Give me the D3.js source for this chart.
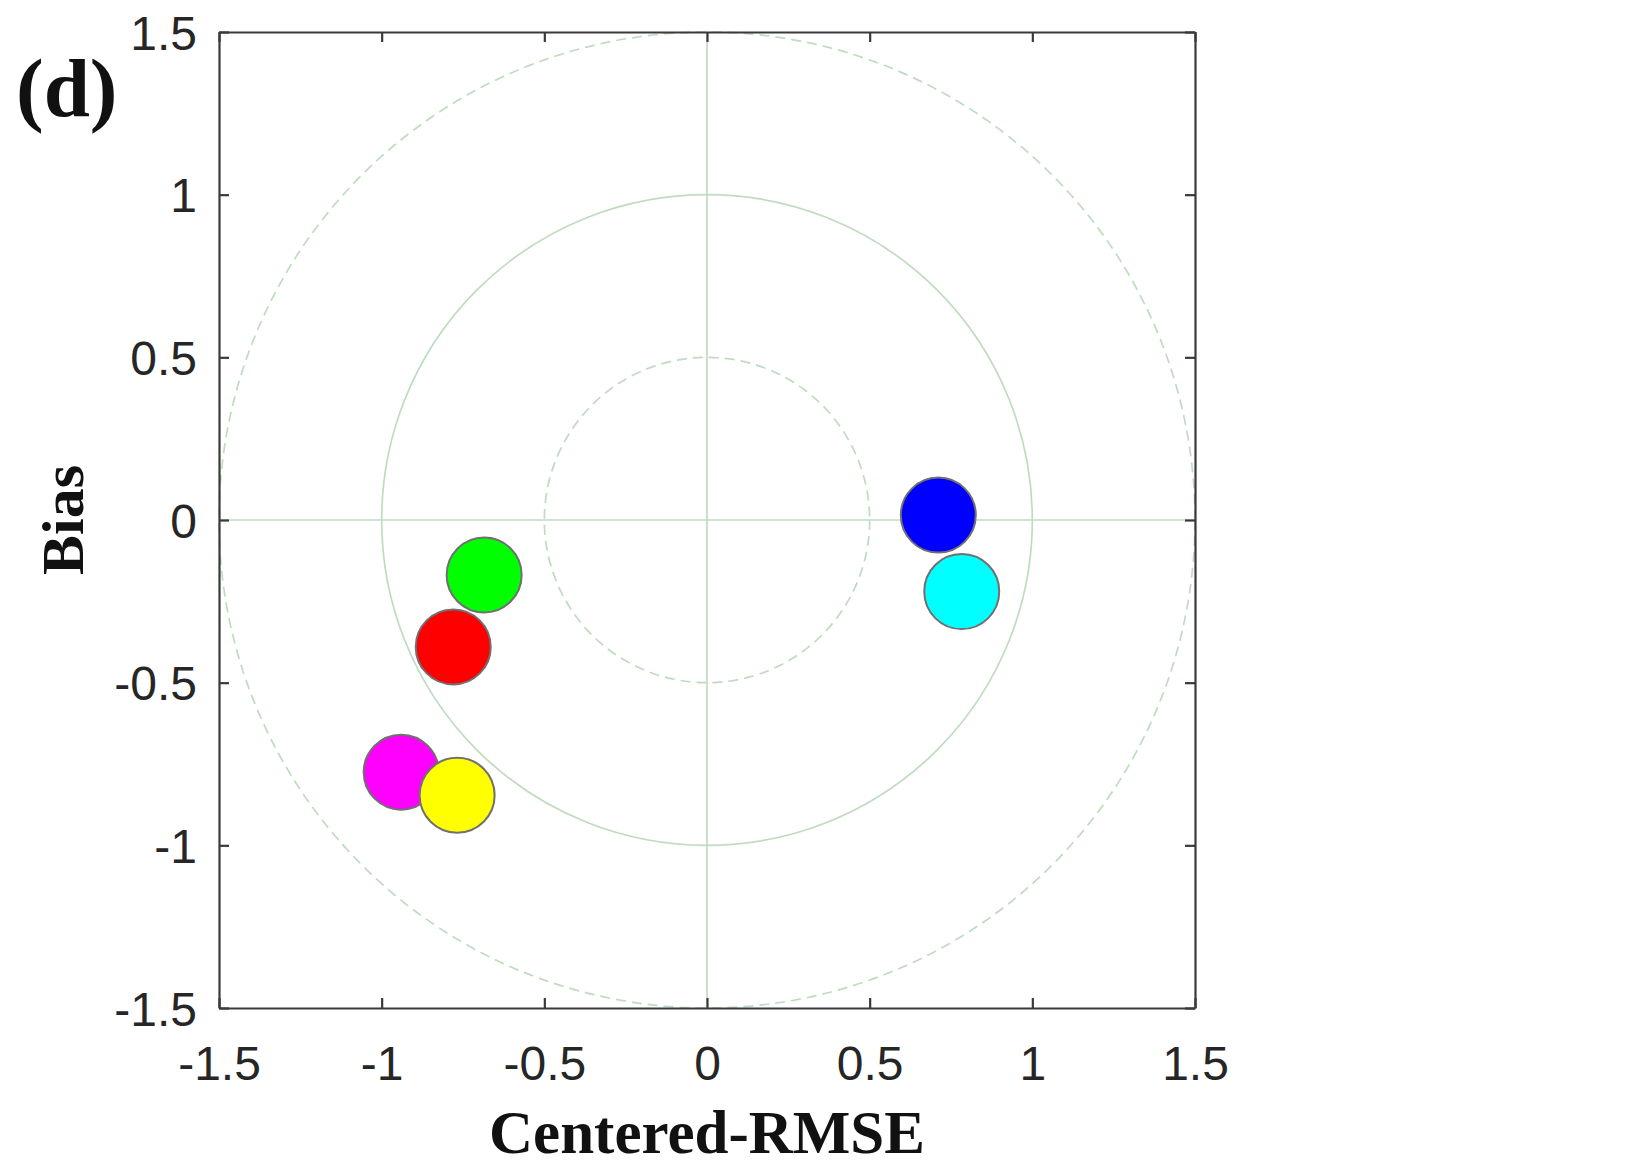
<!DOCTYPE html>
<html>
<head>
<meta charset="utf-8">
<script src="https://cdn.jsdelivr.net/npm/d3@7"></script>
<style>
  html, body { margin: 0; padding: 0; background: #fff; }
  svg { display: block; }
</style>
</head>
<body>
<svg id="chart" width="1627" height="1165"></svg>
<script>
// Model scores: centered RMSE (x) against bias (y)
const models = ["M1", "M2", "M3", "M4", "M5", "M6"];
const crmse = [0.711, 0.783, -0.685, -0.780, -0.940, -0.768];
const bias = [0.015, -0.220, -0.169, -0.390, -0.775, -0.846];
const colors = ["#0000ff", "#00ffff", "#00ff00", "#ff0000", "#ff00ff", "#ffff00"];
const tickValues = [-1.5, -1, -0.5, 0, 0.5, 1, 1.5];
const refRadii = [0.5, 1, 1.5];

const svg = d3.select("#chart");
const plotL = 219, plotR = 1195, plotT = 32, plotB = 1008;

const x = d3.scaleLinear().domain([-1.5, 1.5]).range([plotL, plotR]);
const y = d3.scaleLinear().domain([-1.5, 1.5]).range([plotB, plotT]);
const unit = x(1) - x(0);

const gridColor = "#bfdcbf";
const axisColor = "#3a3a3a";
const tickFmt = d => String(d);

// Reference circles and crosshair
const grid = svg.append("g");
grid.selectAll("circle.ref")
  .data(refRadii)
  .join("circle")
  .attr("class", "ref")
  .attr("cx", x(0)).attr("cy", y(0))
  .attr("r", d => d * unit)
  .attr("fill", "none")
  .attr("stroke", gridColor)
  .attr("stroke-width", 1.7)
  .attr("stroke-dasharray", d => d === 1 ? null : "10,6");
grid.append("line")
  .attr("x1", x(0)).attr("x2", x(0)).attr("y1", y(1.5)).attr("y2", y(-1.5))
  .attr("stroke", gridColor).attr("stroke-width", 1.7);
grid.append("line")
  .attr("x1", x(-1.5)).attr("x2", x(1.5)).attr("y1", y(0)).attr("y2", y(0))
  .attr("stroke", gridColor).attr("stroke-width", 1.7);

// Model markers
svg.append("g").selectAll("circle.pt")
  .data(models.map((m, i) => ({ m, cx: crmse[i], cy: bias[i], c: colors[i] })))
  .join("circle")
  .attr("class", "pt")
  .attr("cx", d => x(d.cx))
  .attr("cy", d => y(d.cy))
  .attr("r", 37.5)
  .attr("fill", d => d.c)
  .attr("stroke", "#707070")
  .attr("stroke-width", 2);

// Box axes with inward ticks
const tickLen = 10;
function drawAxis(gen, transform, showLabels) {
  const g = svg.append("g")
    .attr("transform", transform)
    .call(gen.tickValues(tickValues).tickFormat(tickFmt)
      .tickSizeInner(-tickLen).tickSizeOuter(0));
  g.select(".domain").attr("stroke", axisColor).attr("stroke-width", 2.2);
  g.selectAll(".tick line").attr("stroke", axisColor).attr("stroke-width", 2.2);
  const t = g.selectAll(".tick text")
    .attr("fill", "#262626")
    .style("font-family", "'Liberation Sans', Arial, sans-serif")
    .style("font-size", "48px");
  if (!showLabels) t.remove();
  return g;
}
const xBottom = drawAxis(d3.axisBottom(x), `translate(0,${plotB})`, true);
drawAxis(d3.axisTop(x), `translate(0,${plotT})`, false);
const yLeft = drawAxis(d3.axisLeft(y), `translate(${plotL},0)`, true);
drawAxis(d3.axisRight(y), `translate(${plotR},0)`, false);

xBottom.selectAll(".tick text").attr("dy", 0).attr("y", 72);
yLeft.selectAll(".tick text").attr("dy", "0.36em").attr("x", -22);

// Axis titles
svg.append("text")
  .attr("x", (plotL + plotR) / 2).attr("y", 1153)
  .attr("text-anchor", "middle")
  .style("font-family", "'Liberation Serif', 'Times New Roman', serif")
  .style("font-weight", "bold").style("font-size", "61px")
  .attr("fill", "#111")
  .text("Centered-RMSE");
svg.append("text")
  .attr("transform", `translate(83,${y(0)}) rotate(-90)`)
  .attr("text-anchor", "middle")
  .style("font-family", "'Liberation Serif', 'Times New Roman', serif")
  .style("font-weight", "bold").style("font-size", "60px")
  .attr("fill", "#111")
  .text("Bias");

// Panel tag
svg.append("text")
  .attr("x", 16).attr("y", 116)
  .style("font-family", "'Liberation Serif', 'Times New Roman', serif")
  .style("font-weight", "bold").style("font-size", "83px")
  .attr("fill", "#111")
  .text("(d)");
</script>
</body>
</html>
